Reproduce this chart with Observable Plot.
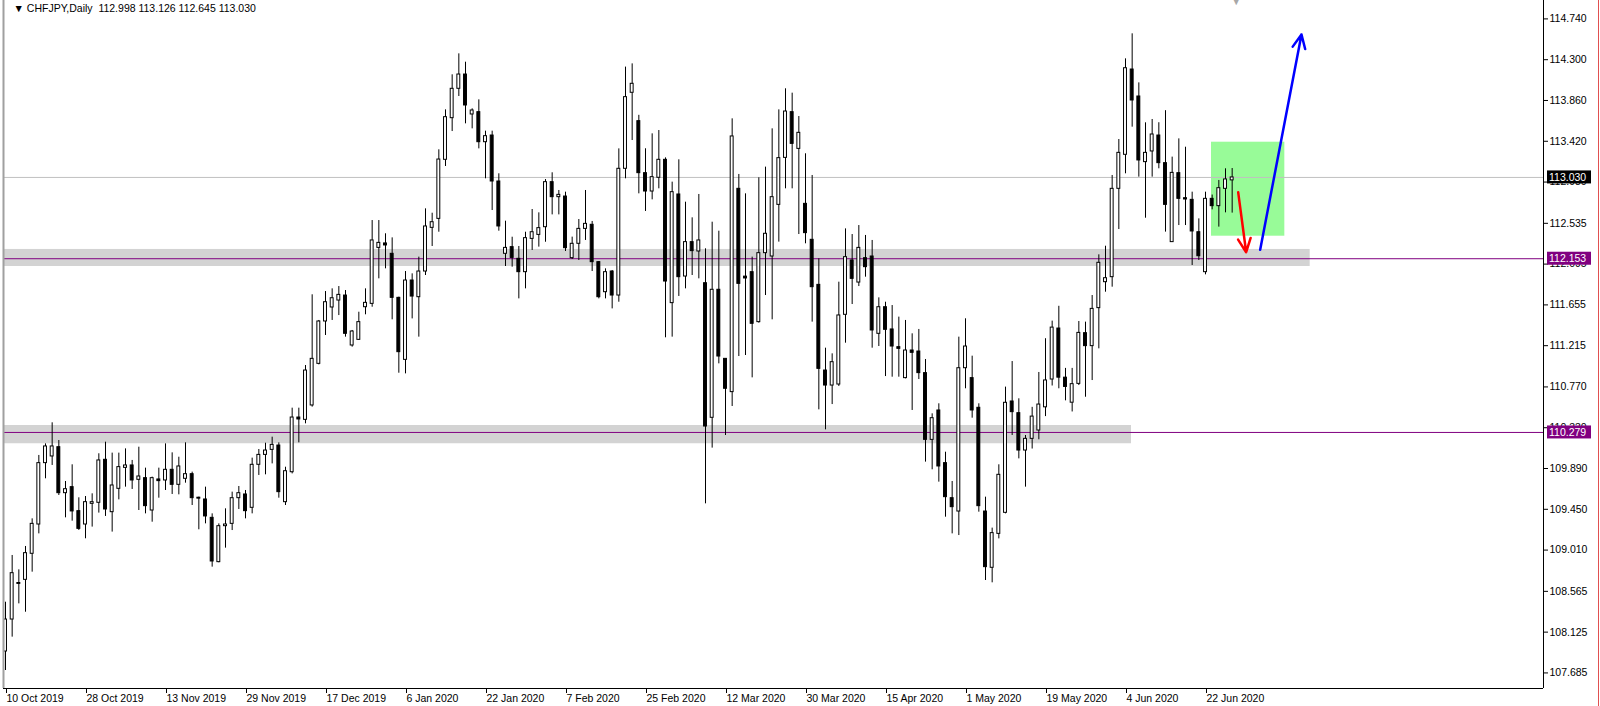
<!DOCTYPE html>
<html><head><meta charset="utf-8">
<script src="https://cdn.jsdelivr.net/npm/d3@7"></script>
<script src="https://cdn.jsdelivr.net/npm/@observablehq/plot@0.6"></script>
<style>
html,body{margin:0;padding:0;background:#fff;overflow:hidden}
#chart svg{display:block}
</style></head><body><div id="chart"></div>
<script>
// ---- data (CHFJPY daily, bar index 0 = 10 Oct 2019) ----
const opens = [
107.916,108.261,108.645,108.689,108.970,109.286,109.948,110.020,110.120,109.624,
109.689,109.430,109.286,109.509,109.520,109.984,109.419,109.671,109.897,109.923,
109.768,109.786,109.437,109.772,109.761,109.876,109.714,109.779,109.829,109.575,
109.556,109.358,108.880,109.268,109.293,109.570,109.610,109.466,109.930,110.037,
110.091,110.138,109.527,109.850,110.440,110.415,110.570,111.019,111.476,111.627,
111.702,111.756,111.217,111.278,111.630,111.666,112.270,112.318,112.206,111.731,
111.062,111.918,111.738,112.015,112.486,112.583,113.220,113.669,113.986,114.140,
113.709,113.734,113.410,113.482,112.986,112.206,112.278,112.152,112.008,112.367,
112.410,112.493,112.979,112.817,112.824,112.159,112.314,112.475,112.519,112.116,
111.792,112.015,111.756,113.123,113.943,113.637,113.076,112.878,113.026,113.220,
111.674,112.846,111.961,112.332,112.231,111.889,110.437,111.818,111.073,110.714,
112.907,111.960,112.008,111.469,112.213,112.177,112.734,113.241,113.734,113.338,
112.745,112.357,111.871,110.947,110.785,110.796,111.548,112.134,111.896,112.159,
112.177,111.343,111.630,111.390,111.199,110.865,111.163,111.152,110.919,110.199,
110.516,109.948,109.570,109.426,110.972,110.865,110.545,109.426,108.819,109.185,
109.412,110.613,110.487,110.084,110.210,110.300,110.550,110.850,111.400,110.870,
110.600,110.803,111.350,111.210,111.620,111.900,111.954,112.907,113.274,114.194,
113.903,113.195,113.310,113.482,113.184,112.332,113.076,112.806,112.788,112.439,
112.008,112.799,112.720,112.907,112.998];
const highs = [
108.448,108.952,108.797,109.049,109.347,110.031,110.156,110.383,110.192,109.750,
109.930,109.574,109.588,109.617,110.049,110.174,110.056,110.056,110.102,109.977,
110.120,109.894,109.797,109.894,110.156,110.059,110.012,110.167,109.851,109.581,
109.689,109.401,109.293,109.455,109.635,109.696,109.653,110.002,110.095,110.163,
110.228,110.167,109.904,110.541,110.541,111.001,111.764,111.487,111.799,111.828,
111.853,111.810,111.379,111.576,111.828,112.565,112.565,112.422,112.378,111.738,
112.015,111.990,112.170,112.691,112.644,113.328,113.759,114.137,114.363,114.273,
113.770,113.867,113.529,113.529,113.069,112.558,112.385,112.285,112.439,112.684,
112.648,113.007,113.080,112.889,112.871,112.386,112.576,112.889,112.555,112.123,
112.044,112.026,113.338,114.220,114.255,113.700,113.339,113.500,113.536,113.241,
112.979,113.220,112.763,112.594,112.846,112.260,112.547,112.450,111.073,113.662,
113.062,112.853,112.170,113.026,113.141,113.554,113.759,113.986,113.939,113.687,
113.285,113.051,112.152,111.188,111.127,111.900,112.475,112.414,112.511,112.404,
112.350,111.731,111.684,111.648,111.523,111.487,111.343,111.390,111.066,110.480,
110.588,110.066,109.750,111.307,111.505,111.102,110.588,109.581,109.247,109.930,
110.768,111.044,110.642,110.246,110.550,110.926,111.290,111.480,111.640,110.970,
110.970,111.476,111.469,111.756,112.195,112.288,113.051,113.439,114.309,114.579,
114.050,113.619,113.655,113.620,113.750,113.249,113.446,113.356,112.871,112.583,
112.871,112.840,112.997,113.123,113.126];
const lows = [
107.711,108.071,108.430,108.340,108.772,109.185,109.779,109.923,109.599,109.358,
109.322,109.222,109.132,109.258,109.409,109.373,109.204,109.552,109.689,109.664,
109.437,109.401,109.311,109.570,109.653,109.610,109.606,109.732,109.491,109.229,
109.293,108.826,108.873,109.031,109.221,109.448,109.347,109.401,109.815,109.822,
109.940,109.570,109.491,109.832,110.167,110.372,110.552,111.008,111.325,111.487,
111.540,111.307,111.199,111.271,111.548,111.630,111.936,112.044,111.494,110.918,
110.911,111.504,111.307,111.972,112.285,112.439,113.148,113.525,113.903,113.608,
113.554,113.338,113.015,112.673,112.450,112.069,112.062,111.720,111.828,112.242,
112.278,112.331,112.626,112.626,112.231,112.145,112.134,112.350,112.015,111.720,
111.720,111.612,111.684,113.015,113.428,112.853,112.663,112.788,112.907,111.300,
111.307,111.746,111.828,111.972,111.936,109.509,110.110,111.019,110.246,110.559,
111.098,111.109,110.868,111.458,111.756,111.494,112.332,112.907,112.907,112.414,
112.314,111.469,110.523,110.307,110.580,110.775,111.242,111.659,111.853,111.954,
111.188,111.206,110.882,110.875,110.875,110.857,110.516,110.850,109.959,109.876,
109.743,109.365,109.185,109.167,110.750,110.433,109.419,108.682,108.657,109.131,
109.401,110.246,109.994,109.689,110.100,110.200,110.450,110.780,110.750,110.620,
110.500,110.785,110.659,110.839,111.181,111.792,111.846,112.468,113.069,113.572,
113.033,112.590,113.033,113.123,112.440,112.332,112.511,112.511,112.080,112.134,
111.979,112.680,112.494,112.648,112.645];
const closes = [
108.261,108.761,108.655,108.977,109.293,109.948,110.128,110.128,109.624,109.667,
109.427,109.239,109.527,109.527,109.977,109.448,109.707,109.905,109.923,109.761,
109.804,109.484,109.786,109.754,109.876,109.714,109.912,109.829,109.570,109.565,
109.373,108.887,109.268,109.286,109.570,109.624,109.430,109.930,110.037,110.084,
110.145,109.635,109.861,110.440,110.419,110.947,111.073,111.476,111.684,111.727,
111.763,111.343,111.368,111.469,111.677,112.350,112.324,112.296,111.731,111.145,
111.918,111.745,112.015,112.501,112.547,113.223,113.680,113.986,114.140,113.806,
113.752,113.410,113.475,112.986,112.501,112.270,112.162,112.008,112.375,112.439,
112.483,112.979,112.817,112.842,112.267,112.314,112.475,112.529,112.116,111.738,
112.008,111.756,113.123,113.896,114.040,113.076,112.878,113.033,113.220,111.907,
112.871,111.954,112.332,112.235,112.350,110.343,111.818,111.098,110.750,113.472,
111.882,111.940,111.451,112.213,112.422,112.817,113.238,113.741,113.392,113.511,
112.429,111.846,110.965,110.785,111.037,111.541,112.170,111.936,112.270,112.062,
111.379,111.630,111.386,111.206,111.181,111.163,111.138,110.919,110.199,110.433,
109.912,109.581,109.473,110.972,111.206,110.516,109.484,108.826,109.193,109.822,
110.599,110.498,110.084,110.210,110.450,110.580,110.840,111.410,110.870,110.770,
110.800,111.353,111.210,111.612,112.109,111.943,112.907,113.295,114.208,113.860,
113.213,113.295,113.493,113.184,112.734,113.079,112.799,112.792,112.447,112.180,
112.799,112.720,112.914,113.008,113.030];

const dateTicks = [0,12,24,36,48,60,72,84,96,108,120,132,144,156,168,180];
const dateLabels = ["10 Oct 2019","28 Oct 2019","13 Nov 2019","29 Nov 2019","17 Dec 2019","6 Jan 2020","22 Jan 2020","7 Feb 2020","25 Feb 2020","12 Mar 2020","30 Mar 2020","15 Apr 2020","1 May 2020","19 May 2020","4 Jun 2020","22 Jun 2020"];
const priceTicks = [114.740,114.300,113.860,113.420,112.980,112.535,112.095,111.655,111.215,110.770,110.330,109.890,109.450,109.010,108.565,108.125,107.685];

// support/resistance zones (bar index range, price range)
const zoneStart = [-0.3, -0.3];
const zoneEnd = [195.7, 168.9];
const zoneLow = [112.069, 110.157];
const zoneHigh = [112.253, 110.354];
// horizontal levels
const levelValues = [112.153, 110.279];
const lastPrice = 113.030;
// target box
const boxStart = [180.9], boxEnd = [191.9], boxLow = [112.396], boxHigh = [113.410];
// arrows: [x1, y1, x2, y2]
const redArrow = [184.9, 112.871, 186.1, 112.223];
const blueArrow = [188.2, 112.249, 194.4, 114.572];
const titleText = "▼ CHFJPY,Daily  112.998 113.126 112.645 113.030";
const shiftMarker = 184.6;

// ---- build ----
const xDomain = [-0.3, 230.7];
const yDomain = [107.517, 114.9385];
const W = 1600, H = 706, mL = 3, mR = 57, mT = 0, mB = 18;

const candles = opens.map((o, i) => {
  const c = closes[i];
  let lo = Math.min(o, c), hi = Math.max(o, c);
  if (hi - lo < 0.01) { const m = (o + c) / 2; lo = m - 0.005; hi = m + 0.005; }
  return {i, open: o, high: highs[i], low: lows[i], close: c, bLo: lo, bHi: hi, up: c >= o};
});
const zones = zoneStart.map((s, k) => ({x1: s, x2: zoneEnd[k], y1: zoneLow[k], y2: zoneHigh[k]}));
const boxes = boxStart.map((s, k) => ({x1: s, x2: boxEnd[k], y1: boxLow[k], y2: boxHigh[k]}));
const arrows = [
  {x1: redArrow[0], y1: redArrow[1], x2: redArrow[2], y2: redArrow[3], c: "#ff0000"},
  {x1: blueArrow[0], y1: blueArrow[1], x2: blueArrow[2], y2: blueArrow[3], c: "#0000ff"}
];
const font = "'Liberation Sans', Arial, sans-serif";

const chart = Plot.plot({
  width: W, height: H, marginLeft: mL, marginRight: mR, marginTop: mT, marginBottom: mB,
  x: {type: "linear", domain: xDomain, axis: null},
  y: {type: "linear", domain: yDomain, axis: null},
  style: {fontFamily: font, fontSize: "10.5px", background: "#fff", color: "#000", overflow: "visible"},
  marks: [
    Plot.rect(zones, {x1: "x1", x2: "x2", y1: "y1", y2: "y2", fill: "#d3d3d3"}),
    Plot.rect(boxes, {x1: "x1", x2: "x2", y1: "y1", y2: "y2", fill: "#98fb98"}),
    Plot.ruleY([lastPrice], {stroke: "#c0c0c0", strokeWidth: 1}),
    Plot.ruleY(levelValues, {stroke: "#800080", strokeWidth: 1}),
    Plot.ruleX(candles, {x: "i", y1: "low", y2: "high", stroke: "#000", strokeWidth: 1}),
    Plot.rect(candles, {x1: d => d.i - 0.22, x2: d => d.i + 0.22, y1: "bLo", y2: "bHi",
      fill: d => d.up ? "#fff" : "#000", stroke: "#000", strokeWidth: 1}),
    Plot.arrow(arrows, {x1: "x1", y1: "y1", x2: "x2", y2: "y2", stroke: "c", strokeWidth: 2.5, headLength: 9, headAngle: 50}),
    Plot.axisY(priceTicks, {anchor: "right", tickSize: 4, tickPadding: 2, tickFormat: d3.format(".3f"), label: null, fontSize: 10.5}),
    Plot.axisX(dateTicks, {anchor: "bottom", tickSize: 5, tickPadding: 1, textAnchor: "start", dx: 1,
      tickFormat: d => dateLabels[dateTicks.indexOf(d)], label: null, fontSize: 10.5}),
    Plot.ruleX([xDomain[1]], {stroke: "#000"}),
    Plot.ruleY([yDomain[0]], {stroke: "#000"}),
    Plot.ruleX([xDomain[0]], {stroke: "#a0a0a0", strokeWidth: 2}),
    Plot.text([titleText], {frameAnchor: "top-left", dx: 10, dy: 8, textAnchor: "start", lineAnchor: "middle", fontSize: 10.5, fill: "#000"}),
    Plot.text([shiftMarker], {x: d => d, frameAnchor: "top", dy: 2, text: () => "▼", fontSize: 9, fill: "#a8a8a8", lineAnchor: "middle"})
  ]
});
document.getElementById("chart").appendChild(chart);

// price labels on the right axis (coloured boxes), positioned with the plot's y scale
const svg = d3.select(chart);
const ys = chart.scale("y");
const frameRight = W - mR;
const tags = [
  {v: lastPrice, bg: "#000000"},
  {v: levelValues[0], bg: "#800080"},
  {v: levelValues[1], bg: "#800080"}
];
tags.forEach(t => {
  const yy = ys.apply(t.v);
  svg.append("rect").attr("x", frameRight + 4).attr("y", yy - 6.5).attr("width", 44).attr("height", 13).attr("fill", t.bg);
  svg.append("text").attr("x", frameRight + 6).attr("y", yy + 4).attr("fill", "#fff")
    .attr("text-anchor", "start")
    .attr("font-family", font).attr("font-size", "10.5px").text(d3.format(".3f")(t.v));
});
svg.append("line").attr("x1", W - 1.5).attr("x2", W - 1.5).attr("y1", 0).attr("y2", H).attr("stroke", "#e05050").attr("stroke-width", 1);
</script>
</body></html>
